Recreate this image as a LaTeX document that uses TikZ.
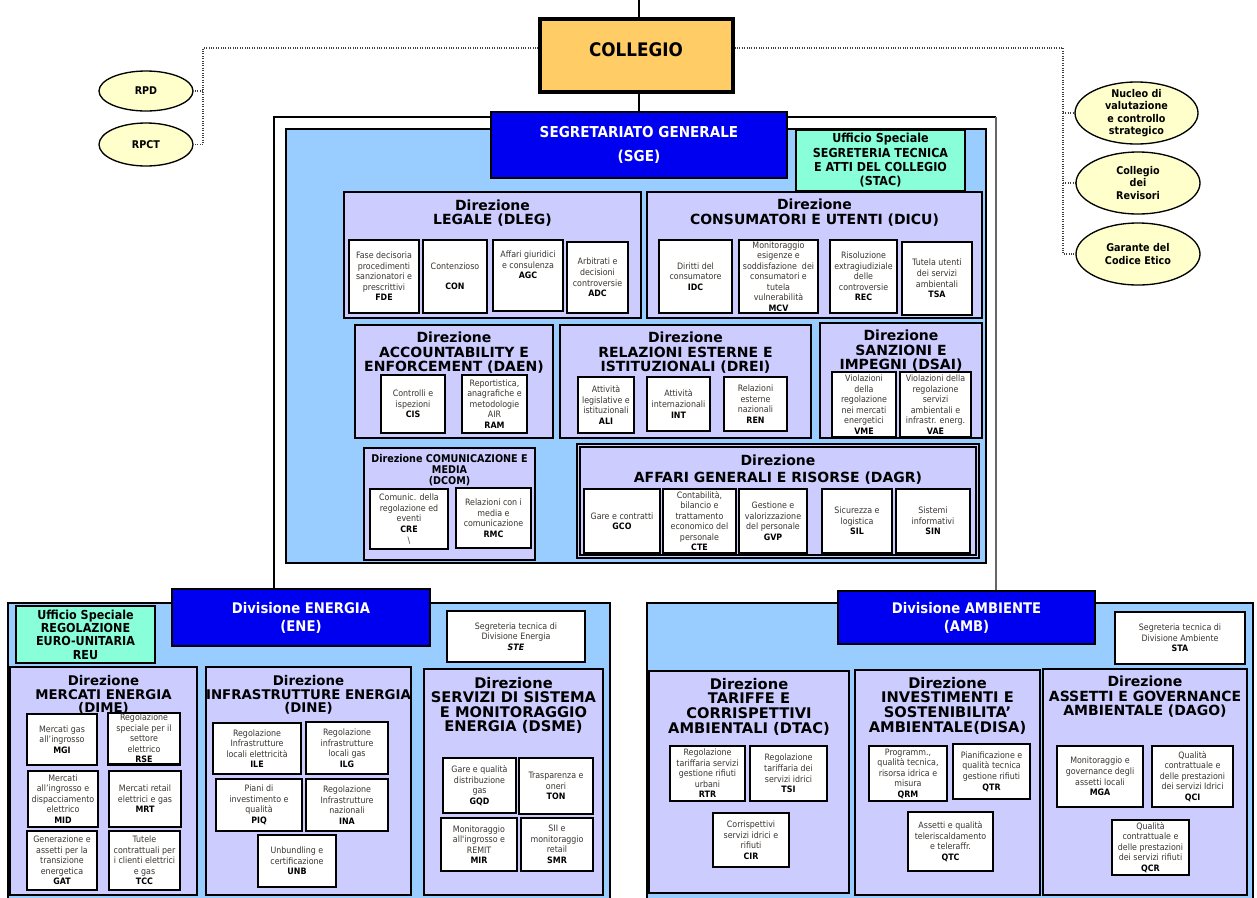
\documentclass[tikz,border=0pt]{standalone}
\usepackage{fontspec}
\setmainfont{DejaVu Sans}
\newfontfamily\cond{DejaVu Sans Condensed}
\usetikzlibrary{shapes.geometric}
\pgfdeclarelayer{bg}
\pgfsetlayers{bg,main}
\definecolor{lblue}{HTML}{99CCFF}
\definecolor{lav}{HTML}{CCCCFF}
\definecolor{dblue}{HTML}{0000F0}
\definecolor{aqua}{HTML}{88FFD8}
\definecolor{orng}{HTML}{FFCC66}
\definecolor{ylw}{HTML}{FFFFCC}
\definecolor{stxt}{HTML}{3A3530}
\newcommand\bx[6]{\node[#1,minimum width={(#5-#3)*0.75pt},minimum height={(#6-#4)*0.75pt}] (#2) at ({(#3+#5)/2},{(#4+#6)/2})}
\newcommand\cd[1]{\textcolor{black}{\bfseries #1}}
\tikzset{
 base/.style={draw=black,inner sep=1pt,align=center},
 lb/.style={base,fill=lblue,line width=1.5pt},
 dv/.style={base,fill=lav,line width=1.5pt},
 sub/.style={base,fill=white,line width=1.8pt,font=\cond\fontsize{6.6}{7.9}\selectfont,text=stxt},
 blu/.style={base,fill=dblue,line width=1.5pt,text=white,font=\cond\bfseries\fontsize{11}{13.5}\selectfont},
 aq/.style={base,fill=aqua,line width=1.5pt,font=\cond\bfseries\fontsize{9.3}{10.8}\selectfont},
 col/.style={base,fill=orng,line width=2.3pt},
 ell/.style={ellipse,draw=black,fill=ylw,line width=1pt,inner sep=0pt},
 elt/.style={align=center,inner sep=0pt,font=\cond\bfseries\fontsize{8}{9.4}\selectfont},
 ttl/.style={anchor=north,align=center,inner sep=0pt,font=\bfseries\fontsize{10.5}{10.6}\selectfont},
 dotc/.style={densely dotted,line width=0.8pt,draw=black!75},
 conn/.style={line width=0.9pt,draw=black},
}
\begin{document}
\begin{tikzpicture}[x=0.75pt,y=-0.75pt]
\useasboundingbox (0,0) rectangle (1257,897);
% ---------- top ----------
\bx{ell}{RPD}{99}{71}{193}{111}{};
\node[elt] (RPDt) at (RPD.center) {RPD};
\bx{ell}{RPCT}{99}{123}{193}{166}{};
\node[elt] (RPCTt) at (RPCT.center) {RPCT};
\bx{ell}{NUC}{1075}{82}{1198}{144}{};
\node[elt] (NUCt) at (NUC.center) {Nucleo di\\valutazione\\e controllo\\strategico};
\bx{ell}{REV}{1076}{152}{1200}{214}{};
\node[elt] (REVt) at (REV.center) {Collegio\\dei\\Revisori};
\bx{ell}{GAR}{1076}{223}{1200}{285}{};
\node[elt] (GARt) at (GAR.center) {Garante del\\Codice Etico};
\bx{col}{COL}{540}{19}{733}{92}{};
\node[inner sep=0pt,font=\cond\bfseries\fontsize{14}{16}\selectfont] (COLt) at (636,50) {COLLEGIO};
% ---------- SGE ----------
\bx{lb}{SGEbg}{286}{129}{986}{563}{};
\bx{blu,font=\cond\bfseries\fontsize{11.3}{18.5}\selectfont}{SGE}{491}{112}{787}{178}{SEGRETARIATO GENERALE\\(SGE)};
\bx{aq}{STAC}{796}{130}{965}{191}{Ufficio Speciale\\SEGRETERIA TECNICA\\E ATTI DEL COLLEGIO\\(STAC)};
% DLEG
\bx{dv}{DLEG}{344}{192}{641}{318}{};
\node[ttl] (DLEGt) at ([yshift=-6.5pt]DLEG.north) {Direzione\\LEGALE (DLEG)};
\bx{sub}{FDE}{349}{240}{419}{313}{Fase decisoria\\procedimenti\\sanzionatori e\\prescrittivi\\\cd{FDE}};
\bx{sub}{CON}{423}{240}{487}{313}{Contenzioso\\[7pt]\cd{CON}};
\bx{sub}{AGC}{493}{240}{563}{311}{Affari giuridici\\e consulenza\\\cd{AGC}\\[8pt]};
\bx{sub}{ADC}{567}{242}{628}{313}{Arbitrati e\\decisioni\\controversie\\\cd{ADC}};
% DICU
\bx{dv}{DICU}{647}{192}{982}{318}{};
\node[ttl] (DICUt) at ([yshift=-6pt]DICU.north) {Direzione\\CONSUMATORI E UTENTI (DICU)};
\bx{sub}{IDC}{659}{240}{732}{313}{Diritti del\\consumatore\\\cd{IDC}};
\bx{sub}{MCV}{739}{240}{818}{313}{Monitoraggio\\esigenze e\\soddisfazione\ \ dei\\consumatori e\\tutela\\vulnerabilità\\\cd{MCV}};
\bx{sub}{REC}{830}{240}{897}{313}{Risoluzione\\extragiudiziale\\delle\\controversie\\\cd{REC}};
\bx{sub}{TSA}{902}{242}{972}{315}{Tutela utenti\\dei servizi\\ambientali\\\cd{TSA}};
% DAEN
\bx{dv}{DAEN}{355}{325}{553}{438}{};
\node[ttl] (DAENt) at ([yshift=-6pt]DAEN.north) {Direzione\\ACCOUNTABILITY E\\ENFORCEMENT (DAEN)};
\bx{sub}{CIS}{381}{375}{445}{433}{Controlli e\\ispezioni\\\cd{CIS}};
\bx{sub}{RAM}{462}{375}{527}{433}{Reportistica,\\anagrafiche e\\metodologie\\AIR\\\cd{RAM}};
% DREI
\bx{dv}{DREI}{560}{325}{811}{438}{};
\node[ttl] (DREIt) at ([yshift=-6pt]DREI.north) {Direzione\\RELAZIONI ESTERNE E\\ISTITUZIONALI (DREI)};
\bx{sub}{ALI}{578}{377}{634}{433}{Attività\\legislative e\\istituzionali\\\cd{ALI}};
\bx{sub}{INT}{647}{377}{710}{431}{Attività\\internazionali\\\cd{INT}};
\bx{sub}{REN}{724}{377}{787}{431}{Relazioni\\esterne\\nazionali\\\cd{REN}};
% DSAI
\bx{dv}{DSAI}{820}{323}{982}{438}{};
\node[ttl] (DSAIt) at ([yshift=-6pt]DSAI.north) {Direzione\\SANZIONI E\\IMPEGNI (DSAI)};
\bx{sub}{VME}{832}{372}{896}{437}{Violazioni\\della\\regolazione\\nei mercati\\energetici\\\cd{VME}};
\bx{sub}{VAE}{900}{372}{971}{437}{Violazioni della\\regolazione\\servizi\\ambientali e\\infrastr. energ.\\\cd{VAE}};
% DCOM
\bx{dv}{DCOM}{364}{448}{535}{560}{};
\node[ttl,font=\cond\bfseries\fontsize{8}{8.3}\selectfont] (DCOMt) at ([yshift=-5pt]DCOM.north) {Direzione COMUNICAZIONE E\\MEDIA\\(DCOM)};
\bx{sub}{CRE}{370}{489}{448}{549}{Comunic. della\\regolazione ed\\eventi\\\cd{CRE}\\\textbackslash};
\bx{sub}{RMC}{456}{488}{531}{548}{Relazioni con i\\media e\\comunicazione\\\cd{RMC}};
% DAGR
\bx{dv}{DAGR}{577}{444}{979}{558}{};
\draw[line width=0.8pt] ([shift={(3pt,-3pt)}]DAGR.north west) rectangle ([shift={(-3pt,3pt)}]DAGR.south east);
\node[ttl,font=\bfseries\fontsize{10.5}{12.5}\selectfont] (DAGRt) at ([yshift=-9pt]DAGR.north) {Direzione\\AFFARI GENERALI E RISORSE (DAGR)};
\bx{sub}{GCO}{584}{489}{660}{553}{Gare e contratti\\\cd{GCO}};
\bx{sub}{CTE}{663}{489}{736}{553}{Contabilità,\\bilancio e\\trattamento\\economico del\\personale\\\cd{CTE}};
\bx{sub}{GVP}{739}{489}{807}{553}{Gestione e\\valorizzazione\\del personale\\\cd{GVP}};
\bx{sub}{SIL}{822}{489}{892}{553}{Sicurezza e\\logistica\\\cd{SIL}};
\bx{sub}{SIN}{896}{489}{970}{553}{Sistemi\\informativi\\\cd{SIN}};
% ---------- ENE ----------
\bx{lb}{ENEbg}{8}{603}{610}{900}{};
\bx{blu}{ENE}{172}{589}{430}{646}{Divisione ENERGIA\\(ENE)};
\bx{aq,font=\cond\bfseries\fontsize{9.3}{10}\selectfont}{REU}{16}{606}{155}{663}{Ufficio Speciale\\REGOLAZIONE\\EURO-UNITARIA\\REU};
\bx{sub}{STE}{447}{611}{585}{662}{Segreteria tecnica di\\Divisione Energia\\\cd{\itshape STE}};
% DIME
\bx{dv}{DIME}{10}{667}{197}{895}{};
\node[ttl,font=\bfseries\fontsize{10}{10}\selectfont] (DIMEt) at ([yshift=-7pt]DIME.north) {Direzione\\MERCATI ENERGIA\\(DIME)};
\bx{sub}{MGI}{27}{714}{97}{765}{Mercati gas\\all’ingrosso\\\cd{MGI}};
\bx{sub}{RSE}{108}{713}{180}{764}{Regolazione\\speciale per il\\settore\\elettrico\\\cd{RSE}};
\bx{sub}{MID}{28}{771}{98}{827}{Mercati\\all’ingrosso e\\dispacciamento\\elettrico\\\cd{MID}};
\bx{sub}{MRT}{109}{771}{181}{827}{Mercati retail\\elettrici e gas\\\cd{MRT}};
\bx{sub}{GAT}{27}{831}{97}{890}{Generazione e\\assetti per la\\transizione\\energetica\\\cd{GAT}};
\bx{sub}{TCC}{109}{831}{180}{890}{Tutele\\contrattuali per\\i clienti elettrici\\e gas\\\cd{TCC}};
% DINE
\bx{dv}{DINE}{206}{667}{411}{895}{};
\node[ttl,font=\bfseries\fontsize{10}{10}\selectfont] (DINEt) at ([yshift=-7pt]DINE.north) {Direzione\\INFRASTRUTTURE ENERGIA\\(DINE)};
\bx{sub}{ILE}{213}{723}{301}{774}{Regolazione\\Infrastrutture\\locali elettricità\\\cd{ILE}};
\bx{sub}{ILG}{306}{722}{388}{774}{Regolazione\\infrastrutture\\locali gas\\\cd{ILG}};
\bx{sub}{PIQ}{216}{779}{302}{831}{Piani di\\investimento e\\qualità\\\cd{PIQ}};
\bx{sub}{INA}{306}{779}{388}{831}{Regolazione\\Infrastrutture\\nazionali\\\cd{INA}};
\bx{sub}{UNB}{258}{835}{336}{887}{Unbundling e\\certificazione\\\cd{UNB}};
% DSME
\bx{dv}{DSME}{424}{669}{603}{895}{};
\node[ttl,font=\bfseries\fontsize{11}{10.6}\selectfont] (DSMEt) at ([yshift=-7pt]DSME.north) {Direzione\\SERVIZI DI SISTEMA\\E MONITORAGGIO\\ENERGIA (DSME)};
\bx{sub}{GQD}{443}{758}{516}{813}{Gare e qualità\\distribuzione\\gas\\\cd{GQD}};
\bx{sub}{TON}{519}{758}{593}{814}{Trasparenza e\\oneri\\\cd{TON}};
\bx{sub}{MIR}{441}{818}{517}{871}{Monitoraggio\\all'ingrosso e\\REMIT\\\cd{MIR}};
\bx{sub}{SMR}{521}{818}{593}{871}{SII e\\monitoraggio\\retail\\\cd{SMR}};
% ---------- AMB ----------
\bx{lb}{AMBbg}{647}{603}{1253}{900}{};
\bx{blu}{AMB}{838}{591}{1095}{644}{Divisione AMBIENTE\\(AMB)};
\bx{sub}{STA}{1115}{612}{1245}{664}{Segreteria tecnica di\\Divisione Ambiente\\\cd{STA}};
% DTAC
\bx{dv}{DTAC}{649}{671}{849}{893}{};
\node[ttl,font=\bfseries\fontsize{11}{10.9}\selectfont] (DTACt) at ([yshift=-6pt]DTAC.north) {Direzione\\TARIFFE E\\CORRISPETTIVI\\AMBIENTALI (DTAC)};
\bx{sub}{RTR}{670}{746}{745}{801}{Regolazione\\tariffaria servizi\\gestione rifiuti\\urbani\\\cd{RTR}};
\bx{sub}{TSI}{750}{746}{827}{801}{Regolazione\\tariffaria dei\\servizi idrici\\\cd{TSI}};
\bx{sub}{CIR}{713}{813}{789}{867}{Corrispettivi\\servizi idrici e\\rifiuti\\\cd{CIR}};
% DISA
\bx{dv}{DISA}{855}{670}{1040}{895}{};
\node[ttl,font=\bfseries\fontsize{11}{10.9}\selectfont] (DISAt) at ([yshift=-6pt]DISA.north) {Direzione\\INVESTIMENTI E\\SOSTENIBILITA’\\AMBIENTALE(DISA)};
\bx{sub}{QRM}{869}{746}{947}{801}{Programm.,\\qualità tecnica,\\risorsa idrica e\\misura\\\cd{QRM}};
\bx{sub}{QTR}{953}{744}{1030}{799}{Pianificazione e\\qualità tecnica\\gestione rifiuti\\\cd{QTR}};
\bx{sub}{QTC}{908}{812}{993}{871}{Assetti e qualità\\teleriscaldamento\\e teleraffr.\\\cd{QTC}};
% DAGO
\bx{dv}{DAGO}{1043}{669}{1247}{895}{};
\node[ttl,font=\bfseries\fontsize{10.5}{10.9}\selectfont] (DAGOt) at ([yshift=-6pt]DAGO.north) {Direzione\\ASSETTI E GOVERNANCE\\AMBIENTALE (DAGO)};
\bx{sub}{MGA}{1057}{746}{1143}{807}{Monitoraggio e\\governance degli\\assetti locali\\\cd{MGA}};
\bx{sub}{QCI}{1152}{746}{1233}{807}{Qualità\\contrattuale e\\delle prestazioni\\dei servizi Idrici\\\cd{QCI}};
\bx{sub}{QCR}{1112}{820}{1189}{875}{Qualità\\contrattuale e\\delle prestazioni\\dei servizi rifiuti\\\cd{QCR}};
% ---------- connectors ----------
\begin{pgfonlayer}{bg}
\coordinate (topc) at (639,0);
\draw[conn] (topc) -- (topc |- COL.north);
\draw[conn] (topc |- COL.south) -- (topc |- SGE.north);
\coordinate (ol) at (274,117);
\coordinate (or) at (996,117);
\draw[conn] (ENE.north -| ol) -- (ol) -- (or);
\draw[conn,draw=black!60] (or) -- (or |- AMB.north);
\coordinate (dl) at (203,48);
\draw[dotc] (COL.west |- dl) -- (dl) -- (dl |- RPCT.east) -- (RPCT.east);
\draw[dotc] (dl |- RPD.east) -- (RPD.east);
\coordinate (dr) at (1063,48);
\draw[dotc] (COL.east |- dr) -- (dr) -- (dr |- GAR.west) -- (GAR.west);
\draw[dotc] (dr |- NUC.west) -- (NUC.west);
\draw[dotc] (dr |- REV.west) -- (REV.west);
\end{pgfonlayer}
\end{tikzpicture}
\end{document}
